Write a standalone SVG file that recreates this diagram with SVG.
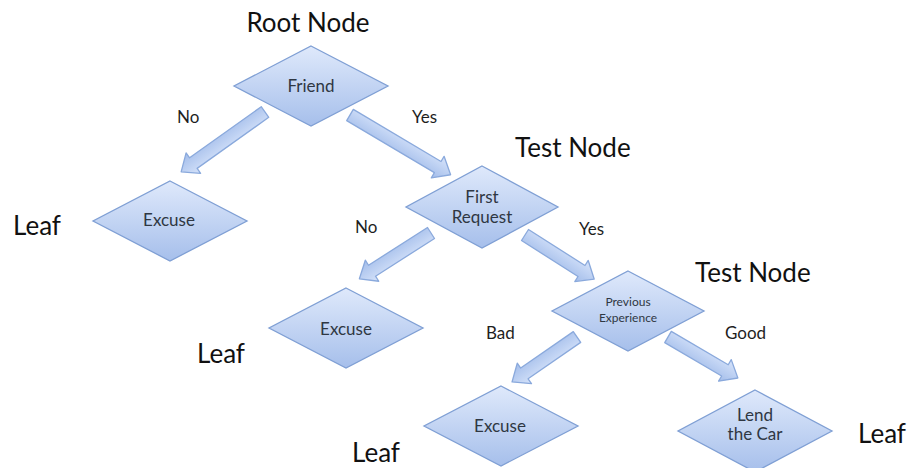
<svg xmlns="http://www.w3.org/2000/svg" width="912" height="468" viewBox="0 0 912 468">
  <defs>
    <linearGradient id="gNode" x1="0" y1="0" x2="0" y2="1">
      <stop offset="0" stop-color="#dfe9fb"/>
      <stop offset="1" stop-color="#a6bfeb"/>
    </linearGradient>
    <linearGradient id="gArrow" x1="0" y1="0" x2="0" y2="1">
      <stop offset="0" stop-color="#d6e3fa"/>
      <stop offset="1" stop-color="#a3bdea"/>
    </linearGradient>
    <style>
      .node { fill: url(#gNode); stroke: #7f9fd4; stroke-width: 1.3; }
      .arrow { fill: url(#gArrow); stroke: #8aa9dc; stroke-width: 1.3; stroke-linejoin: round; }
      .big { font-family: Lato, "Open Sans", sans-serif; font-size: 26px; fill: #111; }
      .lbl { font-family: Lato, "Open Sans", sans-serif; font-size: 17px; fill: #1e1e1e; }
      .txt { font-family: Lato, "Open Sans", sans-serif; font-size: 17px; fill: #2f3743; text-anchor: middle; }
      .small { font-family: Lato, "Open Sans", sans-serif; font-size: 12px; fill: #2f3743; text-anchor: middle; }
    </style>
  </defs>
  <rect width="912" height="468" fill="#ffffff"/>

  <!-- block arrows: drawn along +x from the tail, then placed -->
  <g id="connectors">
    <path class="arrow" transform="translate(265,112) rotate(144.5)" d="M0,-6.5 L88,-6.5 L88,-12.5 L103,0 L88,12.5 L88,6.5 L0,6.5 Z"/>
    <path class="arrow" transform="translate(350,115) rotate(30.7)" d="M0,-6.5 L102,-6.5 L102,-12.5 L117,0 L102,12.5 L102,6.5 L0,6.5 Z"/>
    <path class="arrow" transform="translate(431,233) rotate(147.4)" d="M0,-6.5 L70,-6.5 L70,-12.5 L85,0 L70,12.5 L70,6.5 L0,6.5 Z"/>
    <path class="arrow" transform="translate(525,235) rotate(32.5)" d="M0,-6.5 L67,-6.5 L67,-12.5 L82,0 L67,12.5 L67,6.5 L0,6.5 Z"/>
    <path class="arrow" transform="translate(577,337) rotate(145.3)" d="M0,-6.5 L64,-6.5 L64,-12.5 L79,0 L64,12.5 L64,6.5 L0,6.5 Z"/>
    <path class="arrow" transform="translate(668,337) rotate(30.4)" d="M0,-6.5 L66,-6.5 L66,-12.5 L81,0 L66,12.5 L66,6.5 L0,6.5 Z"/>
  </g>

  <!-- branch labels -->
  <g id="labels">
    <text class="lbl" x="177" y="123">No</text>
    <text class="lbl" x="412" y="123">Yes</text>
    <text class="lbl" x="355" y="233">No</text>
    <text class="lbl" x="579" y="235">Yes</text>
    <text class="lbl" x="486" y="339">Bad</text>
    <text class="lbl" x="725" y="339">Good</text>
  </g>

  <!-- decision and leaf nodes -->
  <g id="node-friend">
    <polygon class="node" points="311,46 388,86 311,126 234,86"/>
    <text class="txt" x="311" y="92">Friend</text>
  </g>
  <g id="node-excuse-1">
    <polygon class="node" points="170,181 247,221 170,261 93,221"/>
    <text class="txt" x="169" y="226">Excuse</text>
  </g>
  <g id="node-first-request">
    <polygon class="node" points="482,166 558,207 482,248 406,207"/>
    <text class="txt" x="482" y="203">First</text>
    <text class="txt" x="482" y="223">Request</text>
  </g>
  <g id="node-excuse-2">
    <polygon class="node" points="346,288 423,328 346,368 269,328"/>
    <text class="txt" x="346" y="335">Excuse</text>
  </g>
  <g id="node-previous-experience">
    <polygon class="node" points="628,271 704,311 628,351 552,311"/>
    <text class="small" x="628" y="306">Previous</text>
    <text class="small" x="628" y="322">Experience</text>
  </g>
  <g id="node-excuse-3">
    <polygon class="node" points="501,386 578,426 501,466 424,426"/>
    <text class="txt" x="500" y="432">Excuse</text>
  </g>
  <g id="node-lend-the-car">
    <polygon class="node" points="755,390 832,431 755,472 678,431"/>
    <text class="txt" x="755" y="421" font-size="16">Lend</text>
    <text class="txt" x="755" y="440" font-size="16">the Car</text>
  </g>

  <!-- role captions -->
  <g id="captions">
    <text class="big" x="308" y="32" text-anchor="middle">Root Node</text>
    <text class="big" x="515" y="157">Test Node</text>
    <text class="big" x="695" y="282">Test Node</text>
    <text class="big" x="13" y="235">Leaf</text>
    <text class="big" x="197" y="363">Leaf</text>
    <text class="big" x="352" y="462">Leaf</text>
    <text class="big" x="858" y="443">Leaf</text>
  </g>
</svg>
